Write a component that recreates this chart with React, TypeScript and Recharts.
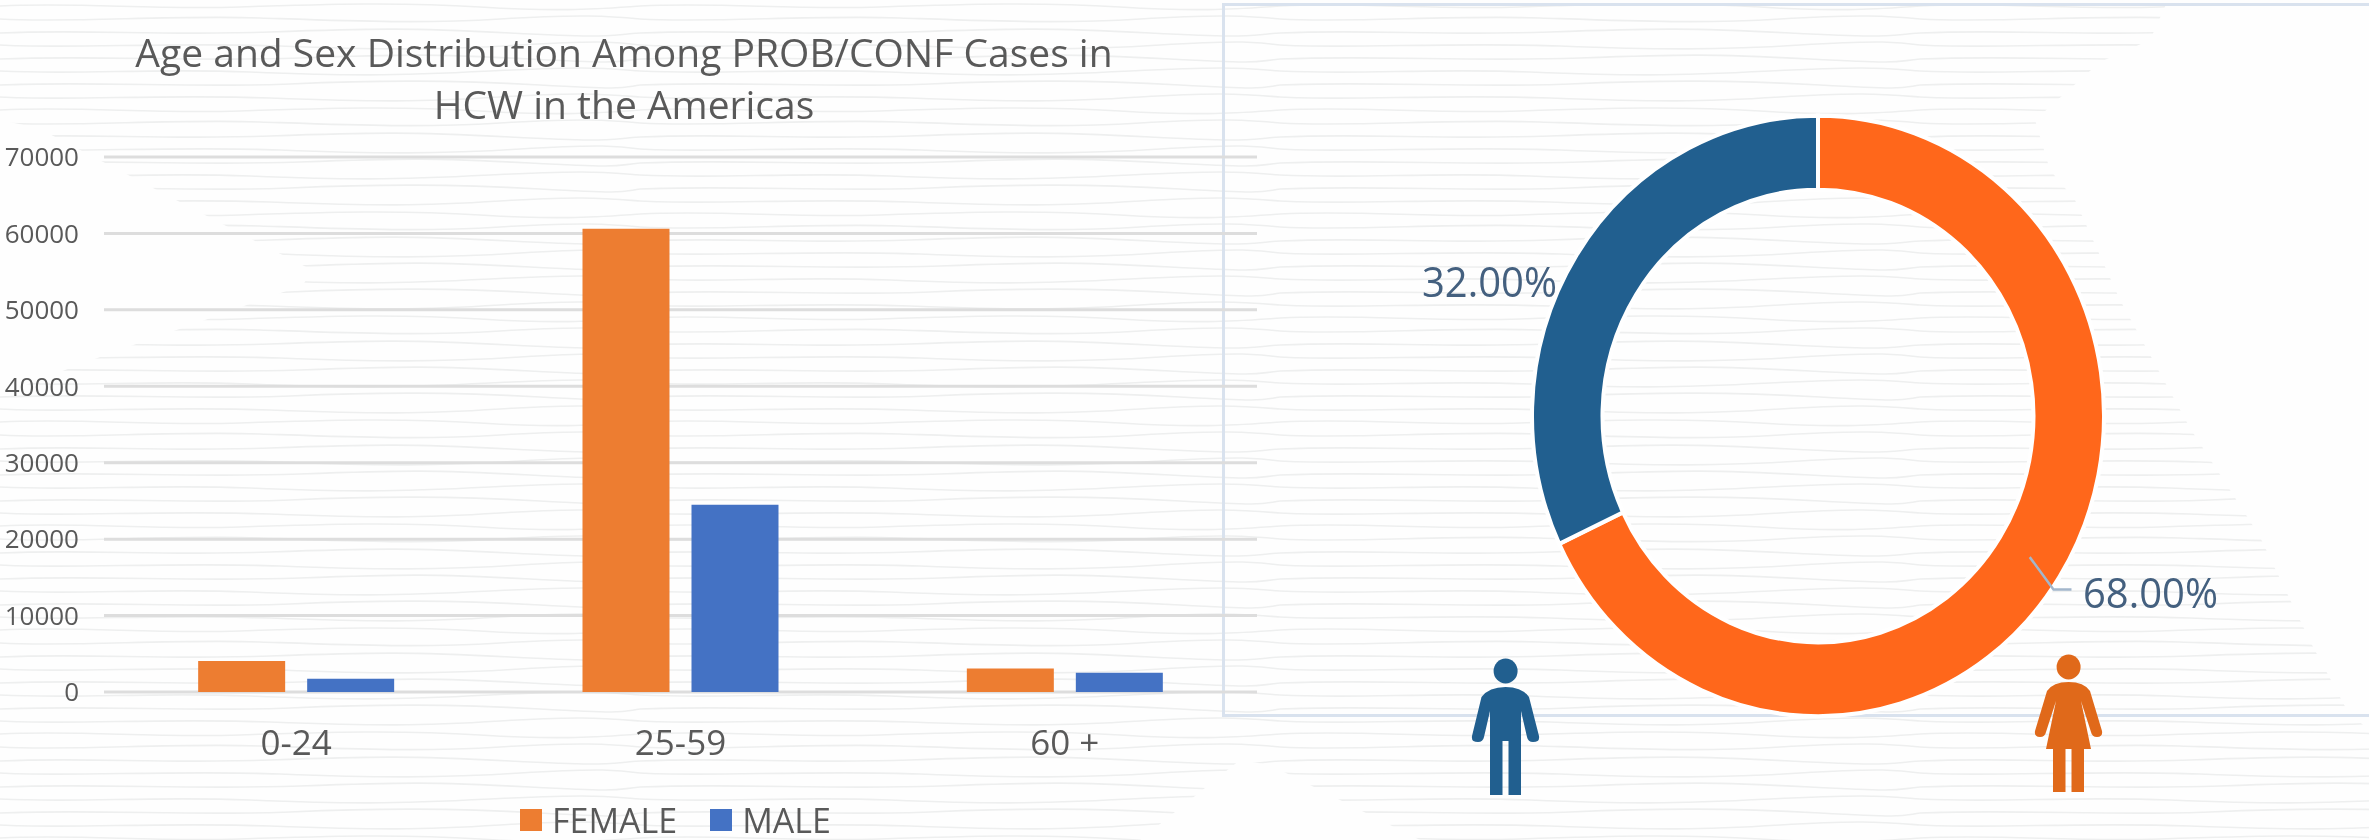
import React from "react";
import { BarChart, Bar, XAxis, YAxis, CartesianGrid, Legend, PieChart, Pie, Cell } from "recharts";

const ageGroups = ["0-24", "25-59", "60 +"];
const femaleCases = [4060, 60600, 3090];
const maleCases = [1750, 24500, 2520];
const yTicks = [0, 10000, 20000, 30000, 40000, 50000, 60000, 70000];
const sexLabels = ["FEMALE", "MALE"];
const sexShares = [68, 32];

const FONT = "'Open Sans', sans-serif";
const TEXT = "#595959";
const SLICE_COLORS = ["#FF671B", "#215F8F"];

const barData = ageGroups.map((age, i) => ({ age, FEMALE: femaleCases[i], MALE: maleCases[i] }));
const pieData = sexLabels.map((name, i) => ({ name, value: sexShares[i] }));

const RAD = Math.PI / 180;

function renderPieLabel(p: any) {
  const { cx, cy, midAngle, innerRadius, outerRadius, percent, index } = p;
  const ux = Math.cos(-midAngle * RAD);
  const uy = Math.sin(-midAngle * RAD);
  const ox = cx + outerRadius * ux;
  const oy = cy + outerRadius * uy;
  const text = `${(percent * 100).toFixed(2)}%`;
  if (index === 0) {
    const mr = (innerRadius + outerRadius) / 2;
    const pts = `${cx + mr * ux},${cy + mr * uy} ${ox - 6},${oy + 12} ${ox + 12},${oy + 12}`;
    return (
      <g>
        <polyline points={pts} fill="none" stroke="#A3B6CB" strokeWidth={2.5} />
        <text x={ox + 91} y={oy + 14} textAnchor="middle" dominantBaseline="central" fill="#44607F" fontSize={40} fontFamily={FONT}>
          {text}
        </text>
      </g>
    );
  }
  return (
    <text x={ox - 87} y={oy + 24} textAnchor="middle" dominantBaseline="central" fill="#44607F" fontSize={40} fontFamily={FONT}>
      {text}
    </text>
  );
}

function renderLegend(props: any) {
  const items = props.payload || [];
  return (
    <div style={{ display: "flex", alignItems: "center", height: 38, fontFamily: FONT, fontSize: 34, color: TEXT }}>
      {items.map((it: any, i: number) => (
        <div key={it.value} style={{ display: "flex", alignItems: "center", marginRight: i === 0 ? 33 : 0 }}>
          <span style={{ display: "inline-block", width: 22, height: 22, background: it.color, marginRight: 10 }} />
          <span>{it.value}</span>
        </div>
      ))}
    </div>
  );
}

const wavePaths = [
  "M0 6 C80 2 150 10 240 7 S400 2 480 7 S600 9 640 6",
  "M0 19 C70 23 170 15 260 18 S420 24 500 19 S610 16 640 19",
  "M0 33 C90 29 160 36 270 32 S410 28 510 33 S600 36 640 33",
  "M0 45 C60 49 180 42 280 46 S440 50 520 45 S620 42 640 45",
  "M0 59 C100 55 190 62 300 58 S430 54 530 59 S610 62 640 59",
  "M0 71 C80 75 150 68 250 72 S390 76 490 71 S600 68 640 71",
  "M0 85 C90 81 200 88 290 84 S450 80 540 85 S620 88 640 85",
  "M0 97 C70 101 160 94 270 98 S420 102 500 97 S600 94 640 97",
];

const texturePolygon =
  "0,0 2168,0 2150,40 2100,62 2035,120 2050,170 2075,200 2120,300 2190,428 2259,535 2311,643 2348,712 2369,730 2369,840 " +
  "1420,840 1270,765 1240,760 1140,840 0,840 0,395 57,373 119,350 191,325 303,285 312,270 257,242 176,200 38,128 0,120";

const MAN =
  "M1505.5 687 Q1522 687 1529 697 L1539 736 Q1540 742 1533 742 Q1528 742 1527 737 L1521 711 L1521 795 L1508.5 795 L1508.5 741 L1502.5 741 L1502.5 795 L1490 795 L1490 711 L1484 737 Q1483 742 1478 742 Q1471 742 1472 736 L1481.5 697 Q1489 687 1505.5 687 Z";
const WOMAN =
  "M2068.6 682 Q2084 682 2090 691 L2102 731 Q2103 737 2097 737 Q2092 737 2091 732 L2081 701 L2091 749 L2084 749 L2084 792 L2071.5 792 L2071.5 749 L2065.5 749 L2065.5 792 L2053 792 L2053 749 L2046 749 L2056 701 L2046 732 Q2045 737 2040 737 Q2034 737 2035 731 L2047 691 Q2053 682 2068.6 682 Z";

const abs: React.CSSProperties = { position: "absolute" };

export default function App() {
  return (
    <div style={{ ...abs, left: 0, top: 0, width: 2369, height: 840, overflow: "hidden", background: "#FEFEFE", fontFamily: FONT, filter: "blur(0.6px)" }}>
      <svg width={2369} height={840} style={{ ...abs, left: 0, top: 0 }}>
        <defs>
          <pattern id="waves" patternUnits="userSpaceOnUse" width={640} height={104}>
            {wavePaths.map((d, i) => (
              <path key={i} d={d} fill="none" stroke="#EEEFEF" strokeWidth={1.6} />
            ))}
          </pattern>
        </defs>
        <polygon points={texturePolygon} fill="url(#waves)" />
      </svg>

      <div style={{ ...abs, left: 1222, top: 3, width: 1160, height: 714, boxSizing: "border-box", border: "3px solid #D9E2EE" }} />

      <div style={{ ...abs, left: 0, top: 0, width: 1300, height: 840 }}>
        <BarChart
          width={1300}
          height={840}
          data={barData}
          margin={{ top: 157, right: 43, bottom: 0, left: 0 }}
          barCategoryGap="24.5%"
          barGap={22}
        >
          <CartesianGrid vertical={false} stroke="#DDDDDD" strokeWidth={3} />
          <XAxis
            dataKey="age"
            axisLine={false}
            tickLine={false}
            tickSize={0}
            height={110}
            tickMargin={38}
            tick={{ fontSize: 35, fill: TEXT, fontFamily: FONT }}
          />
          <YAxis
            domain={[0, 70000]}
            ticks={yTicks}
            width={104}
            axisLine={false}
            tickLine={false}
            tickSize={0}
            tickMargin={25}
            tick={{ fontSize: 26, fill: TEXT, fontFamily: FONT }}
          />
          <Bar dataKey="FEMALE" fill="#ED7D31" isAnimationActive={false} />
          <Bar dataKey="MALE" fill="#4472C4" isAnimationActive={false} />
          <Legend
            verticalAlign="bottom"
            content={renderLegend}
            wrapperStyle={{ left: 520, top: 801, width: 340, height: 38 }}
          />
        </BarChart>
      </div>

      <div style={{ ...abs, left: 74, top: 26, width: 1100, textAlign: "center", fontSize: 39, lineHeight: "52px", color: TEXT }}>
        Age and Sex Distribution Among PROB/CONF Cases in
        <br />
        HCW in the Americas
      </div>

      <div style={{ ...abs, left: 1368, top: 66, width: 900, height: 700, transform: "scaleY(1.05)", transformOrigin: "50% 50%" }}>
        <PieChart width={900} height={700} margin={{ top: 0, right: 0, bottom: 0, left: 0 }}>
          <Pie
            data={pieData}
            dataKey="value"
            nameKey="name"
            cx={450}
            cy={350}
            innerRadius={215.5}
            outerRadius={286}
            startAngle={90}
            endAngle={-270}
            stroke="#FFFFFF"
            strokeWidth={4}
            label={renderPieLabel}
            labelLine={false}
            isAnimationActive={false}
          >
            {pieData.map((d, i) => (
              <Cell key={d.name} fill={SLICE_COLORS[i]} />
            ))}
          </Pie>
        </PieChart>
      </div>

      <svg width={2369} height={840} style={{ ...abs, left: 0, top: 0, pointerEvents: "none" }}>
        <ellipse cx={1505.6} cy={671} rx={12} ry={12.5} fill="#215F8F" />
        <path d={MAN} fill="#215F8F" />
        <ellipse cx={2068.6} cy={667} rx={12} ry={12.5} fill="#E0691A" />
        <path d={WOMAN} fill="#E0691A" />
      </svg>
    </div>
  );
}
